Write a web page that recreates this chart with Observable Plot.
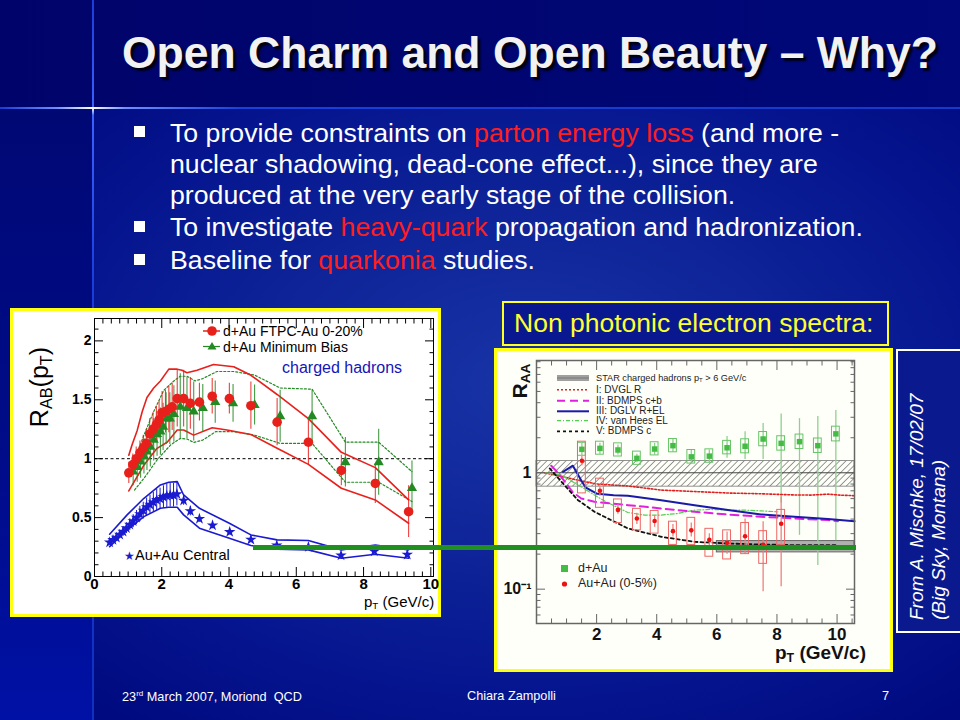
<!DOCTYPE html>
<html><head><meta charset="utf-8">
<script src="https://cdn.jsdelivr.net/npm/d3@7"></script>
<script src="https://cdn.jsdelivr.net/npm/@observablehq/plot@0.6"></script>
<style>
body{margin:0;width:960px;height:720px;position:relative;overflow:hidden;background:#000a7a;font-family:"Liberation Sans",Arial,sans-serif;}
.abs{position:absolute;}
.bg-top{left:0;top:0;width:960px;height:108px;background:linear-gradient(to right,#00046a,#000672 60%,#00087a);}
.bg-left{left:0;top:108px;width:93px;height:612px;background:linear-gradient(to bottom,#000874,#000c8a 60%,#0012a6);}
.bg-main{left:93px;top:108px;width:867px;height:612px;background:radial-gradient(ellipse 75% 70% at 50% 45%,#1834a6 0%,#0e2498 40%,#061690 70%,#000a80 100%);}
.vline{left:92px;top:0;width:2px;height:720px;background:linear-gradient(to bottom,#1a3cd8,#3a62ff 15%,#ffffff 15%,#3a62ff 16%,#1a3cd8 40%,#1030c0);}
.hline{left:0;top:107px;width:960px;height:2px;background:linear-gradient(to right,#1a3cd0,#7090ff 6%,#ffffff 9.6%,#7090ff 13%,#1a40d8 25%,#1838c8 100%);}
.title{left:122px;top:28px;color:#f2f2f2;font-weight:bold;font-size:44.5px;white-space:nowrap;text-shadow:3px 3px 2px rgba(0,0,0,0.85);}
.bl{left:170px;color:#fff;font-size:26.7px;line-height:31px;white-space:nowrap;}
.sq{left:134px;width:11px;height:11px;background:#fff;}
.hl{color:#ff1e1e;}
.foot{color:#fff;font-size:12.7px;white-space:nowrap;top:689px;}
.box{box-sizing:border-box;border:3px solid #ffff10;background:#fff;}
.lg{font-size:14px;color:#000;white-space:nowrap;}
.rl{font-size:10px;line-height:10px;color:#222;white-space:nowrap;}
sub{font-size:65%;vertical-align:-0.25em;}
</style></head><body>
<svg width="0" height="0" style="position:absolute"><defs>
<pattern id="hatch" width="4.5" height="4.5" patternUnits="userSpaceOnUse" patternTransform="rotate(45)">
<line x1="0" y1="0" x2="0" y2="4.5" stroke="#444" stroke-width="1.1"/></pattern></defs></svg>
<div class="abs bg-top"></div>
<div class="abs bg-left"></div>
<div class="abs bg-main"></div>
<div class="abs vline"></div>
<div class="abs hline"></div>
<div class="abs title">Open Charm and Open Beauty – Why?</div>

<div class="abs sq" style="top:126px"></div>
<div class="abs bl" style="top:117.5px">To provide constraints on <span class="hl">parton energy loss</span> (and more -</div>
<div class="abs bl" style="top:148.5px">nuclear shadowing, dead-cone effect...), since they are</div>
<div class="abs bl" style="top:179.5px">produced at the very early stage of the collision.</div>
<div class="abs sq" style="top:221px"></div>
<div class="abs bl" style="top:211.5px">To investigate <span class="hl">heavy-quark</span> propagation and hadronization.</div>
<div class="abs sq" style="top:254px"></div>
<div class="abs bl" style="top:244.5px">Baseline for <span class="hl">quarkonia</span> studies.</div>

<div class="abs box" id="leftBox" style="left:10px;top:308px;width:431px;height:309px;"></div>
<div class="abs box" id="rightBox" style="left:494px;top:348px;width:399px;height:324px;background:#fffffa"></div>

<div class="abs" style="left:502px;top:301px;width:387px;height:45px;box-sizing:border-box;border:2.5px solid #ffff20;background:#0a1890;"></div>
<div class="abs" style="left:514px;top:306px;color:#ffff30;font-size:26.5px;white-space:nowrap;line-height:34px;">Non photonic electron spectra:</div>

<div class="abs" style="left:896px;top:349px;width:80px;height:284px;box-sizing:border-box;border:2px solid #fff;background:#0a1a8e;"></div>
<div class="abs" style="left:799px;top:467px;width:260px;height:46px;transform:rotate(-90deg);transform-origin:center;color:#fff;font-style:italic;font-size:19px;line-height:22px;white-space:nowrap;">From A. Mischke, 17/02/07<br>(Big Sky, Montana)</div>

<!-- left chart texts -->
<div class="abs" style="left:-31px;top:372px;width:140px;height:30px;transform:rotate(-90deg);transform-origin:center;font-size:25px;line-height:30px;text-align:center;color:#000;white-space:nowrap;">R<sub>AB</sub>(p<sub>T</sub>)</div>
<div class="abs" style="left:364px;top:593px;font-size:15px;line-height:17px;color:#000;white-space:nowrap;">p<sub>T</sub> (GeV/c)</div>
<svg class="abs" style="left:200px;top:324px" width="24" height="30">
<line x1="3" y1="7" x2="20" y2="7" stroke="#e8201c" stroke-width="1.5"/><circle cx="12" cy="7" r="4.8" fill="#e8201c"/>
<line x1="3" y1="22.5" x2="20" y2="22.5" stroke="#238a23" stroke-width="1.2"/><path d="M12,18 L16.5,25.5 L7.5,25.5 Z" fill="#238a23"/></svg>
<div class="abs lg" style="left:223px;top:323px;">d+Au FTPC-Au 0-20%</div>
<div class="abs lg" style="left:223px;top:338.5px;">d+Au Minimum Bias</div>
<div class="abs" style="left:282px;top:359px;font-size:16px;color:#1616b8;white-space:nowrap;">charged hadrons</div>
<div class="abs lg" style="left:124px;top:547px;font-size:14.5px;"><span style="color:#1a1ad0;font-size:12px">★</span>Au+Au Central</div>

<!-- right chart texts -->
<div class="abs" style="left:490px;top:369px;width:60px;height:24px;transform:rotate(-90deg);transform-origin:center;font-size:21px;font-weight:bold;line-height:24px;text-align:center;color:#111;white-space:nowrap;">R<sub>AA</sub></div>
<div class="abs" style="left:775px;top:643px;font-size:19px;line-height:19px;font-weight:bold;color:#111;white-space:nowrap;">p<sub>T</sub> (GeV/c)</div>
<svg class="abs" style="left:554px;top:370px" width="40" height="68">
<line x1="3" y1="8" x2="35" y2="8" stroke="#a0a0a0" stroke-width="6"/><line x1="3" y1="8" x2="35" y2="8" stroke="#777" stroke-width="1"/>
<line x1="3" y1="19.7" x2="35" y2="19.7" stroke="#e02020" stroke-width="1.5" stroke-dasharray="2,2"/>
<line x1="3" y1="30.7" x2="35" y2="30.7" stroke="#e020e0" stroke-width="2" stroke-dasharray="8,5"/>
<line x1="3" y1="41.3" x2="35" y2="41.3" stroke="#1a1aa8" stroke-width="2"/>
<line x1="3" y1="50.7" x2="35" y2="50.7" stroke="#55cc55" stroke-width="1.2" stroke-dasharray="4,2,1,2"/>
<line x1="3" y1="61.3" x2="35" y2="61.3" stroke="#111" stroke-width="1.8" stroke-dasharray="3,3"/></svg>
<div class="abs rl" style="left:596px;top:373px;font-size:9.2px;">STAR charged hadrons p<sub>T</sub> &gt; 6 GeV/c</div>
<div class="abs rl" style="left:596px;top:384.7px;">I: DVGL R</div>
<div class="abs rl" style="left:596px;top:395.7px;">II: BDMPS c+b</div>
<div class="abs rl" style="left:596px;top:406.3px;">III: DGLV R+EL</div>
<div class="abs rl" style="left:596px;top:415.7px;">IV: van Hees EL</div>
<div class="abs rl" style="left:596px;top:426.3px;">V: BDMPS c</div>
<svg class="abs" style="left:558px;top:562px" width="14" height="28">
<rect x="3" y="3" width="7" height="7" fill="#44bb44"/><circle cx="6.5" cy="22" r="2.6" fill="#ee1111"/></svg>
<div class="abs" style="left:578px;top:561px;font-size:12.5px;line-height:14px;color:#222;">d+Au</div>
<div class="abs" style="left:578px;top:576px;font-size:12.5px;line-height:14px;color:#222;">Au+Au (0-5%)</div>

<div class="abs foot" style="left:122px;">23<sup style="font-size:8px">rd</sup> March 2007, Moriond&nbsp; QCD</div>
<div class="abs foot" style="left:467px;">Chiara Zampolli</div>
<div class="abs foot" style="left:882px;">7</div>

<script>
// ---------- LEFT CHART DATA: R_AB(pT) charged hadrons ----------
const ftpcPT  = [1.02,1.14,1.24,1.35,1.45,1.54,1.64,1.74,1.84,1.92,2.01,2.11,2.21,2.31,2.46,2.65,2.85,3.12,3.50,4.01,4.65,5.43,6.36,7.34,8.35,9.34];
const ftpcR   = [0.88,0.95,1.00,1.05,1.09,1.13,1.21,1.25,1.29,1.33,1.39,1.40,1.42,1.44,1.51,1.51,1.47,1.48,1.53,1.51,1.45,1.31,1.14,0.90,0.79,0.55];
const ftpcErr = [0.09,0.09,0.10,0.10,0.11,0.12,0.13,0.14,0.15,0.16,0.18,0.18,0.20,0.20,0.24,0.24,0.22,0.16,0.15,0.13,0.20,0.20,0.19,0.13,0.17,0.22];

const mbPT  = [1.15,1.27,1.37,1.47,1.56,1.66,1.76,1.86,1.96,2.04,2.13,2.24,2.36,2.55,2.75,2.95,3.22,3.59,4.12,4.76,5.52,6.47,7.46,8.45,9.44];
const mbR   = [0.89,0.93,0.975,1.02,1.06,1.10,1.16,1.21,1.23,1.27,1.34,1.34,1.38,1.44,1.43,1.40,1.43,1.48,1.47,1.455,1.36,1.36,0.97,0.97,0.75];
const mbErr = [0.12,0.13,0.14,0.15,0.16,0.17,0.18,0.19,0.20,0.20,0.22,0.22,0.24,0.28,0.26,0.25,0.20,0.18,0.16,0.17,0.22,0.22,0.21,0.28,0.23];

const auPT  = [0.45,0.55,0.65,0.75,0.85,0.95,1.05,1.15,1.25,1.35,1.45,1.55,1.65,1.75,1.85,1.95,2.05,2.15,2.25,2.35,2.45,2.65,2.85,3.12,3.51,4.02,4.65,5.42,6.36,7.33,8.32,9.30];
const auR   = [0.29,0.31,0.33,0.355,0.38,0.41,0.44,0.47,0.50,0.53,0.56,0.59,0.61,0.63,0.65,0.66,0.675,0.685,0.69,0.69,0.70,0.645,0.555,0.49,0.435,0.378,0.313,0.265,0.251,0.18,0.214,0.186];
const auErr = [0.02,0.025,0.03,0.035,0.04,0.045,0.05,0.055,0.06,0.065,0.07,0.075,0.08,0.085,0.09,0.09,0.095,0.10,0.10,0.10,0.10,0.04,0.04,0.03,0.03,0.025,0.02,0.02,0.02,0.02,0.02,0.02];

const redHiPT = [1.02,1.12,1.27,1.42,1.56,1.76,1.96,2.21,2.46,2.60,2.75,3.05,3.54,4.14,4.64,5.43,6.36,7.34,8.35,9.34];
const redHi   = [1.03,1.12,1.24,1.40,1.52,1.60,1.66,1.76,1.76,1.75,1.73,1.75,1.80,1.78,1.71,1.545,1.34,1.054,0.924,0.65];
const redLoPT = [1.02,1.47,1.86,2.16,2.46,2.65,2.95,3.50,3.94,4.65,5.43,6.36,7.34,8.35,9.34];
const redLo   = [0.726,0.946,1.088,1.14,1.243,1.243,1.20,1.263,1.243,1.206,1.088,0.952,0.749,0.65,0.452];

const grnHiPT = [1.19,1.47,1.76,2.06,2.36,2.55,2.75,2.99,3.22,3.64,4.14,4.76,5.52,6.47,7.46,8.45,9.44];
const grnHi   = [0.99,1.20,1.40,1.58,1.66,1.70,1.70,1.66,1.68,1.74,1.74,1.71,1.60,1.59,1.14,1.14,0.89];
const grnLoPT = [1.19,1.47,1.86,2.26,2.55,2.75,2.95,3.22,3.60,4.14,4.76,5.52,6.47,7.46,8.45,9.44];
const grnLo   = [0.734,0.833,0.989,1.116,1.172,1.167,1.138,1.158,1.229,1.229,1.20,1.13,1.13,0.80,0.80,0.636];

const bluBandPT = [0.45,0.97,1.47,1.96,2.21,2.46,2.65,3.12,4.01,4.65,5.43,6.36,7.34,8.35,9.34];
const bluHi     = [0.359,0.523,0.664,0.777,0.80,0.805,0.692,0.579,0.452,0.353,0.311,0.305,0.226,0.268,0.226];
const bluLo     = [0.254,0.395,0.508,0.579,0.588,0.588,0.523,0.41,0.325,0.263,0.232,0.226,0.155,0.189,0.155];

const unityL   = [1];
const lXMajor  = [0,2,4,6,8,10];
const lXMinor  = [0.25,0.5,0.75,1,1.25,1.5,1.75,2.25,2.5,2.75,3,3.25,3.5,3.75,4.25,4.5,4.75,5,5.25,5.5,5.75,6.25,6.5,6.75,7,7.25,7.5,7.75,8.25,8.5,8.75,9,9.25,9.5,9.75];
const lYMajor  = [0,0.5,1,1.5,2];
const lYMinor  = [0.1,0.2,0.3,0.4,0.6,0.7,0.8,0.9,1.1,1.2,1.3,1.4,1.6,1.7,1.8,1.9,2.1];
const lYLabels = ["0","0.5","1","1.5","2"];

// ---------- RIGHT CHART DATA: R_AA non-photonic electrons ----------
const dauPT  = [1.51,2.11,2.71,3.34,3.93,4.54,5.15,5.75,6.34,6.94,7.54,8.14,8.75,9.36,9.96];
const dauR   = [1.59,1.62,1.57,1.33,1.60,1.71,1.37,1.39,1.64,1.69,1.95,1.79,1.85,1.71,2.16];
const dauLo  = [1.40,1.44,1.42,1.22,1.42,1.50,1.20,1.22,1.33,1.30,1.30,0.55,0.29,0.16,0.26];
const dauHi  = [1.79,1.79,1.73,1.44,1.79,1.95,1.57,1.57,2.05,2.25,2.65,3.20,2.92,3.04,3.43];
const dauSysLo = [1.40,1.43,1.38,1.17,1.41,1.50,1.20,1.22,1.44,1.47,1.69,1.55,1.60,1.48,1.86];
const dauSysHi = [1.81,1.85,1.79,1.52,1.83,1.95,1.57,1.59,1.88,1.94,2.24,2.06,2.13,1.97,2.49];

const aaPT   = [1.51,2.11,2.71,3.34,3.93,4.54,5.15,5.75,6.34,6.94,7.54,8.14];
const aaR    = [1.27,0.70,0.48,0.405,0.385,0.315,0.32,0.265,0.25,0.285,0.24,0.365];
const aaLo   = [1.15,0.63,0.44,0.36,0.34,0.28,0.28,0.23,0.20,0.20,0.095,0.105];
const aaHi   = [1.38,0.78,0.53,0.45,0.43,0.36,0.37,0.30,0.31,0.40,0.38,0.62];
const aaSysLo = [0.665,0.50,0.37,0.32,0.30,0.24,0.24,0.19,0.18,0.20,0.165,0.24];
const aaSysHi = [1.85,0.89,0.59,0.49,0.47,0.38,0.41,0.33,0.32,0.37,0.315,0.48];
const boxHalfWidth = 0.13;

const dvglPT = [0.27,0.83,1.24,1.49,2.02,3.04,4.15,5.26,6.37,7.47,8.58,9.14,9.70,10.10,10.58];
const dvglR  = [1.0,0.93,0.88,0.85,0.80,0.77,0.71,0.69,0.67,0.66,0.645,0.643,0.655,0.643,0.635];
const bdcbPT = [0.49,0.72,1.0,1.21,1.49,1.93,2.49,3.04,4.15,5.26,6.37,7.47,8.58,9.70,10.03];
const bdcbR  = [1.15,1.0,0.80,0.68,0.602,0.563,0.545,0.527,0.494,0.462,0.438,0.419,0.405,0.392,0.384];
const dglvPT = [0.88,1.21,1.49,1.63,2.02,2.57,3.04,4.15,5.26,6.37,7.47,8.58,9.70,10.58];
const dglvR  = [1.02,1.15,0.86,0.75,0.66,0.64,0.634,0.582,0.527,0.478,0.439,0.419,0.40,0.384];
const vhPT   = [0.30,0.83,1.49,1.93,2.27,3.04,3.60,4.15,4.70,5.26,5.81,6.37,6.92,7.47,8.03];
const vhR    = [1.0,0.955,0.758,0.643,0.571,0.456,0.433,0.433,0.447,0.478,0.484,0.478,0.478,0.471,0.462];
const bdcPT  = [0.44,0.83,1.38,1.93,3.04,4.15,5.26,6.37,7.47,8.58,9.70,10.0];
const bdcR   = [1.09,0.837,0.582,0.462,0.333,0.282,0.255,0.247,0.242,0.239,0.239,0.239];

const normBand  = {lo: 0.76, hi: 1.26};
const starBand  = {pt1: 6.0, lo: 0.207, hi: 0.259};
const rXMajor = [2,4,6,8,10];
const rXMinor = [0.5,1,1.5,2.5,3,3.5,4.5,5,5.5,6.5,7,7.5,8.5,9,9.5,10.5];
const rYMajor = [0.1,1];
const rYMinor = [0.06,0.07,0.08,0.09,0.2,0.3,0.4,0.5,0.6,0.7,0.8,0.9,2,3,4,5,6,7,8,9];
const rYLabels = ["10\u207B\u00B9","1"];

// ---------- build ----------
const zip = (xs, ys) => xs.map((x,i)=>({x, y: ys[i]}));
const RED = "#e8201c", GRN = "#238a23", BLU = "#1a1ad0";
const LX = [0, 10.08], LY = [0, 2.19];

const ftpc = ftpcPT.map((x,i)=>({x, y: ftpcR[i], e: ftpcErr[i]}));
const mb = mbPT.map((x,i)=>({x, y: mbR[i], e: mbErr[i]}));
const au = auPT.map((x,i)=>({x, y: auR[i], e: auErr[i]}));
const fontF = "Liberation Sans, Arial, sans-serif";

const leftPlot = Plot.plot({
  width: 425, height: 303,
  marginLeft: 81, marginRight: 5, marginTop: 7, marginBottom: 38,
  x: {domain: LX}, y: {domain: LY},
  style: {background: "#ffffff", color: "#000", fontFamily: fontF, overflow: "visible"},
  marks: [
    Plot.ruleY(unityL, {stroke: "#000", strokeDasharray: "3,2.5", strokeWidth: 1}),
    Plot.line(zip(grnHiPT, grnHi), {x: "x", y: "y", stroke: GRN, strokeWidth: 1.2, strokeDasharray: "2,2"}),
    Plot.line(zip(grnLoPT, grnLo), {x: "x", y: "y", stroke: GRN, strokeWidth: 1.2, strokeDasharray: "2,2"}),
    Plot.line(zip(redHiPT, redHi), {x: "x", y: "y", stroke: RED, strokeWidth: 1.6}),
    Plot.line(zip(redLoPT, redLo), {x: "x", y: "y", stroke: RED, strokeWidth: 1.6}),
    Plot.line(zip(bluBandPT, bluHi), {x: "x", y: "y", stroke: BLU, strokeWidth: 1.6}),
    Plot.line(zip(bluBandPT, bluLo), {x: "x", y: "y", stroke: BLU, strokeWidth: 1.6}),
    Plot.ruleX(mb, {x: "x", y1: d => d.y - d.e, y2: d => d.y + d.e, stroke: GRN, strokeWidth: 1.1, strokeOpacity: 0.85}),
    Plot.ruleX(ftpc, {x: "x", y1: d => d.y - d.e, y2: d => d.y + d.e, stroke: RED, strokeWidth: 1.1, strokeOpacity: 0.85}),
    Plot.dot(mb, {x: "x", y: "y", symbol: "triangle", r: 3.8, fill: GRN, stroke: "none"}),
    Plot.dot(ftpc, {x: "x", y: "y", r: 4.8, fill: RED, stroke: "none"}),
    Plot.ruleX(au, {x: "x", y1: d => d.y - d.e, y2: d => d.y + d.e, stroke: BLU, strokeWidth: 1}),
    Plot.dot(au, {x: "x", y: "y", symbol: "star", r: 3.6, fill: BLU, stroke: "none"}),
    Plot.frame({stroke: "#000", strokeWidth: 1}),
    Plot.axisX({anchor: "bottom", ticks: lXMajor, tickSize: -9, fill: "none", label: null}),
    Plot.axisX({anchor: "bottom", ticks: lXMinor, tickSize: -4.5, fill: "none", label: null}),
    Plot.axisX({anchor: "top", ticks: lXMajor, tickSize: -9, fill: "none", label: null}),
    Plot.axisX({anchor: "top", ticks: lXMinor, tickSize: -4.5, fill: "none", label: null}),
    Plot.axisY({anchor: "left", ticks: lYMajor, tickSize: -9, fill: "none", label: null}),
    Plot.axisY({anchor: "left", ticks: lYMinor, tickSize: -4.5, fill: "none", label: null}),
    Plot.axisY({anchor: "right", ticks: lYMajor, tickSize: -9, fill: "none", label: null}),
    Plot.axisY({anchor: "right", ticks: lYMinor, tickSize: -4.5, fill: "none", label: null}),
    Plot.axisX({anchor: "bottom", ticks: lXMajor, tickSize: 0, tickPadding: 2, label: null, fontSize: 15, fontWeight: "bold", tickFormat: d => String(d)}),
    Plot.axisY({anchor: "left", ticks: lYMajor, tickSize: 0, tickPadding: 3, label: null, fontSize: 14, fontWeight: "bold", tickFormat: d => lYLabels[lYMajor.indexOf(d)]})
  ]
});
leftPlot.style.position = "absolute";
leftPlot.style.left = "13px"; leftPlot.style.top = "311px";
document.body.insertBefore(leftPlot, document.getElementById("leftBox").nextSibling);

const dau = dauPT.map((x,i)=>({x, y: dauR[i], lo: dauLo[i], hi: dauHi[i], slo: dauSysLo[i], shi: dauSysHi[i]}));
const aa = aaPT.map((x,i)=>({x, y: aaR[i], lo: aaLo[i], hi: aaHi[i], slo: aaSysLo[i], shi: aaSysHi[i]}));
const RX = [0, 10.58], RY = [0.0507, 9.22];

const rightPlot = Plot.plot({
  width: 393, height: 318,
  marginLeft: 39, marginRight: 36, marginTop: 9, marginBottom: 46,
  x: {domain: RX}, y: {type: "log", domain: RY},
  style: {background: "transparent", color: "#333", fontFamily: fontF, overflow: "visible"},
  marks: [
    Plot.rect([normBand], {x1: RX[0], x2: RX[1], y1: "lo", y2: "hi", fill: "url(#hatch)", stroke: "#777", strokeWidth: 0.8}),
    Plot.ruleY([1], {stroke: "#444", strokeWidth: 1}),
    Plot.rect([starBand], {x1: "pt1", x2: RX[1], y1: "lo", y2: "hi", fill: "#b0b0b0", stroke: "#666", strokeWidth: 1}),
    Plot.ruleX(dau, {x: "x", y1: "lo", y2: "hi", stroke: "#8fd08f", strokeWidth: 1.3}),
    Plot.rect(dau, {x1: d => d.x - boxHalfWidth, x2: d => d.x + boxHalfWidth, y1: "slo", y2: "shi", fill: "none", stroke: "#66c466", strokeWidth: 1}),
    Plot.dot(dau, {x: "x", y: "y", symbol: "square", r: 3.1, fill: "#44bb44", stroke: "none"}),
    Plot.line(zip(dvglPT, dvglR), {x: "x", y: "y", stroke: "#e02020", strokeWidth: 1.6, strokeDasharray: "1.8,1.8"}),
    Plot.line(zip(vhPT, vhR), {x: "x", y: "y", stroke: "#55cc55", strokeWidth: 1.2, strokeDasharray: "4,2,1,2"}),
    Plot.line(zip(bdcbPT, bdcbR), {x: "x", y: "y", stroke: "#e020e0", strokeWidth: 2, strokeDasharray: "8,5"}),
    Plot.line(zip(dglvPT, dglvR), {x: "x", y: "y", stroke: "#1a1aa8", strokeWidth: 2}),
    Plot.line(zip(bdcPT, bdcR), {x: "x", y: "y", stroke: "#111", strokeWidth: 1.8, strokeDasharray: "3,3"}),
    Plot.ruleX(aa, {x: "x", y1: "lo", y2: "hi", stroke: "#f08080", strokeWidth: 1.3}),
    Plot.rect(aa, {x1: d => d.x - boxHalfWidth, x2: d => d.x + boxHalfWidth, y1: "slo", y2: "shi", fill: "none", stroke: "#ee6666", strokeWidth: 1}),
    Plot.dot(aa, {x: "x", y: "y", r: 2.3, fill: "#ee1111", stroke: "none"}),
    Plot.frame({stroke: "#666", strokeWidth: 1.5}),
    Plot.axisX({anchor: "bottom", ticks: rXMajor, tickSize: -9, fill: "none", label: null, stroke: "#666"}),
    Plot.axisX({anchor: "bottom", ticks: rXMinor, tickSize: -4.5, fill: "none", label: null, stroke: "#666"}),
    Plot.axisX({anchor: "top", ticks: rXMajor, tickSize: -9, fill: "none", label: null, stroke: "#666"}),
    Plot.axisX({anchor: "top", ticks: rXMinor, tickSize: -4.5, fill: "none", label: null, stroke: "#666"}),
    Plot.axisY({anchor: "left", ticks: rYMajor, tickSize: -9, fill: "none", label: null, stroke: "#666"}),
    Plot.axisY({anchor: "left", ticks: rYMinor, tickSize: -4.5, fill: "none", label: null, stroke: "#666"}),
    Plot.axisY({anchor: "right", ticks: rYMajor, tickSize: -9, fill: "none", label: null, stroke: "#666"}),
    Plot.axisY({anchor: "right", ticks: rYMinor, tickSize: -4.5, fill: "none", label: null, stroke: "#666"}),
    Plot.axisX({anchor: "bottom", ticks: rXMajor, tickSize: 0, tickPadding: 4, label: null, fontSize: 17, fontWeight: "bold", fill: "#111", tickFormat: d => String(d)}),
    Plot.axisY({anchor: "left", ticks: rYMajor, tickSize: 0, tickPadding: 5, label: null, fontSize: 16, fontWeight: "bold", fill: "#111", tickFormat: d => rYLabels[rYMajor.indexOf(d)]})
  ]
});
rightPlot.style.position = "absolute";
rightPlot.style.left = "497px"; rightPlot.style.top = "351px";
document.body.insertBefore(rightPlot, document.getElementById("rightBox").nextSibling);
</script>
<div class="abs" style="left:253px;top:544.5px;width:603px;height:5px;background:#1f8f1f;"></div>
</body></html>
